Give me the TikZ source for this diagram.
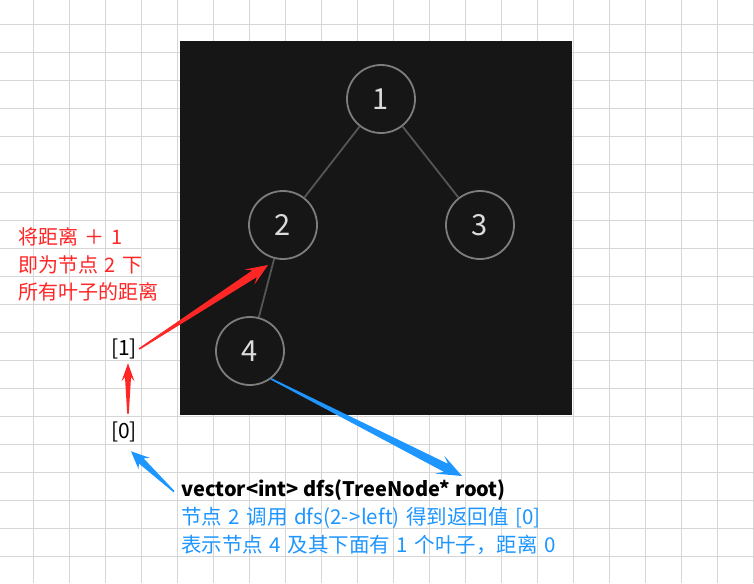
\documentclass[tikz,border=0pt]{standalone}
\usepackage{fontspec}
\setmainfont{Noto Sans CJK SC}
\newfontfamily\cjk{Noto Sans CJK SC}
\usetikzlibrary{calc}
\definecolor{gridc}{RGB}{214,214,214}
\definecolor{bgdark}{RGB}{22,22,22}
\definecolor{ringc}{RGB}{125,125,125}
\definecolor{edgec}{RGB}{85,85,85}
\definecolor{numc}{RGB}{220,220,220}
\definecolor{myred}{RGB}{255,38,38}
\definecolor{myblue}{RGB}{30,150,255}
\newcommand{\taperarrow}[8]{%
  \path (#1) coordinate (ta) (#2) coordinate (tb);
  \path ($(tb)!#7!(ta)$) coordinate (thb);
  \path ($(tb)!#6!(ta)$) coordinate (thn);
  \fill[#3] ($(ta)!#4!90:(tb)$) -- ($(thn)!#5!-90:(ta)$) -- ($(thb)!#8!-90:(ta)$) -- (tb)
     -- ($(thb)!#8!90:(ta)$) -- ($(thn)!#5!90:(ta)$) -- ($(ta)!#4!-90:(tb)$) -- cycle;
}
\newcommand{\wsp}{\hspace{0.32em}}
\tikzset{
  treenode/.style={circle, draw=ringc, line width=1.8pt, fill=bgdark, minimum size=68pt, inner sep=0pt,
    font=\fontsize{29pt}{29pt}\selectfont, text=numc},
  treeedge/.style={draw=edgec, line width=1.8pt},
  redtxt/.style={anchor=base west, inner sep=0pt, text=myred, font=\fontsize{20pt}{20pt}\selectfont},
  bluetxt/.style={anchor=base west, inner sep=0pt, text=myblue, font=\fontsize{20.5pt}{20pt}\selectfont},
  blacktxt/.style={anchor=base west, inner sep=0pt, text=black, font=\fontsize{20pt}{20pt}\selectfont\bfseries},
  bracket/.style={inner sep=0pt, text=black, font=\fontsize{21pt}{21pt}\selectfont},
}
\begin{document}
\begin{tikzpicture}[x=1pt,y=-1pt]
\useasboundingbox (0,0) rectangle (754,583);
\fill[white] (0,0) rectangle (754,583);
% grid
\foreach \i in {0,...,20} \draw[gridc, line width=1pt] ({33.3+36*\i},0) -- ({33.3+36*\i},583);
\foreach \j in {0,...,20} \draw[gridc, line width=1pt] (0,{24.3+28*\j}) -- (754,{24.3+28*\j});
% dark panel
\fill[bgdark] (180,41) rectangle (572,415);
% tree
\node[treenode] (n1) at (381,99) {1};
\node[treenode] (n2) at (283,225) {2};
\node[treenode] (n3) at (480,225) {3};
\node[treenode] (n4) at (250,351) {4};
\draw[treeedge] (n1) -- (n2);
\draw[treeedge] (n1) -- (n3);
\draw[treeedge] (n2) -- (n4);
% texts
\node[redtxt] (r1) at (18,244) {将距离\wsp{}＋\wsp{}1};
\node[redtxt] (r2) at (18,272) {即为节点\wsp{}2\wsp{}下};
\node[redtxt] (r3) at (18,299) {所有叶子的距离};
\node[bracket] (b1) at (124,349) {[1]};
\node[bracket] (b0) at (124,432) {[0]};
\node[blacktxt] (code) at (181,496) {vector<int> dfs(TreeNode* root)};
\node[bluetxt] (l1) at (181,524) {节点\wsp{}2\wsp{}调用\wsp{}dfs(2-\hspace{0.06em}>left)\wsp{}得到返回值\wsp{}[0]};
\node[bluetxt] (l2) at (181,552) {表示节点\wsp{}4\wsp{}及其下面有\wsp{}1\wsp{}个叶子，距离\wsp{}0};
% arrow endpoints
\coordinate (ra1s) at ($(b1.east)+(2,0)$);
\coordinate (ra1e) at (268,265);
\coordinate (ra2s) at ($(b0.north)+(4,-8)$);
\coordinate (ra2e) at ($(b1.south)+(4,4)$);
\coordinate (ba1e) at (462,476);
\coordinate (ba2s) at ($(code.west)+(-7,2)$);
\coordinate (ba2e) at ($(b0.south)+(7,9)$);
% arrows
\taperarrow{ra1s}{ra1e}{myred}{0.8pt}{4pt}{16pt}{22pt}{9pt}
\taperarrow{ra2s}{ra2e}{myred}{0.8pt}{3pt}{14pt}{18pt}{6.5pt}
\taperarrow{n4.-53}{ba1e}{myblue}{0.8pt}{4.5pt}{18pt}{25pt}{10pt}
\taperarrow{ba2s}{ba2e}{myblue}{0.8pt}{3.5pt}{14pt}{18pt}{8pt}
\end{tikzpicture}
\end{document}
